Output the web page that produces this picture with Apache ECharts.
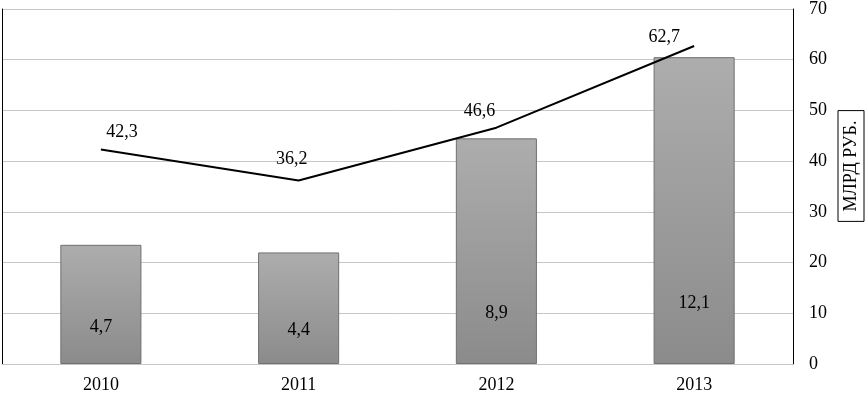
<!DOCTYPE html>
<html lang="ru">
<head>
    <meta charset="utf-8">
    <title>Chart</title>
    <style>
        * {
            margin: 0;
            padding: 0;
        }

        #chart {
            width: 867px;
            height: 394px;
        }
    </style>
</head>
<body>
<div id="chart"></div>
<script src="https://cdn.jsdelivr.net/npm/echarts@6/dist/echarts.min.js"></script>
<script>
    // данные
    const years = ['2010', '2011', '2012', '2013'];
    const barValues = [4.7, 4.4, 8.9, 12.1];
    const lineValues = [42.3, 36.2, 46.6, 62.7];
    const barLabels = ['4,7', '4,4', '8,9', '12,1'];
    const lineLabels = ['42,3', '36,2', '46,6', '62,7'];

    // сдвиги подписей (только оформление)
    const barLabelDistance = [28, 25, 42, 52];
    const lineLabelOffset = [[21, -3], [-7, -7], [-17, -2], [-30, 5]];

    const font = '"Liberation Serif", "Times New Roman", serif';
    const gridColor = '#c6c6c6';

    const chart = echarts.init(document.getElementById('chart'), null, {renderer: 'canvas'});

    const option = {
        animation: false,
        textStyle: {fontFamily: font},
        grid: {left: 2, right: 74, top: 7, bottom: 30, containLabel: false},
        xAxis: {
            type: 'category',
            data: years,
            axisLine: {lineStyle: {color: gridColor}},
            axisTick: {show: false},
            axisLabel: {color: '#000', fontSize: 18, fontFamily: font, margin: 12}
        },
        yAxis: [
            {
                type: 'value',
                position: 'left',
                min: 0,
                max: 14,
                axisLine: {show: true, lineStyle: {color: '#000', width: 1}},
                axisTick: {show: false},
                axisLabel: {show: false},
                splitLine: {show: false}
            },
            {
                type: 'value',
                position: 'right',
                min: 0,
                max: 70,
                interval: 10,
                axisLine: {show: true, lineStyle: {color: '#000', width: 1}},
                axisTick: {show: false},
                axisLabel: {color: '#000', fontSize: 18, fontFamily: font, margin: 16},
                splitLine: {show: true, lineStyle: {color: gridColor, width: 1}}
            }
        ],
        graphic: [
            {
                type: 'text',
                x: 851,
                y: 166,
                rotation: Math.PI / 2,
                style: {
                    text: 'МЛРД РУБ.',
                    font: '18px ' + font,
                    fill: '#000',
                    align: 'center',
                    verticalAlign: 'middle',
                    borderColor: '#000',
                    borderWidth: 1,
                    padding: [4, 10]
                }
            }
        ],
        series: [
            {
                type: 'bar',
                yAxisIndex: 0,
                barWidth: '41%',
                data: barValues.map((v, i) => ({
                    value: v,
                    label: {distance: barLabelDistance[i]}
                })),
                itemStyle: {
                    color: new echarts.graphic.LinearGradient(0, 0, 0, 1, [
                        {offset: 0, color: '#adadad'},
                        {offset: 1, color: '#8b8b8b'}
                    ]),
                    borderColor: '#707070',
                    borderWidth: 1
                },
                label: {
                    show: true,
                    position: 'insideBottom',
                    color: '#000',
                    fontSize: 18,
                    fontFamily: font,
                    formatter: p => barLabels[p.dataIndex]
                }
            },
            {
                type: 'line',
                yAxisIndex: 1,
                data: lineValues.map((v, i) => ({
                    value: v,
                    label: {offset: lineLabelOffset[i]}
                })),
                symbol: 'circle',
                symbolSize: 0,
                lineStyle: {color: '#000', width: 2},
                itemStyle: {color: '#000'},
                z: 5,
                label: {
                    show: true,
                    position: 'top',
                    color: '#000',
                    fontSize: 18,
                    fontFamily: font,
                    formatter: p => lineLabels[p.dataIndex]
                }
            }
        ]
    };

    chart.setOption(option);
</script>
</body>
</html>
